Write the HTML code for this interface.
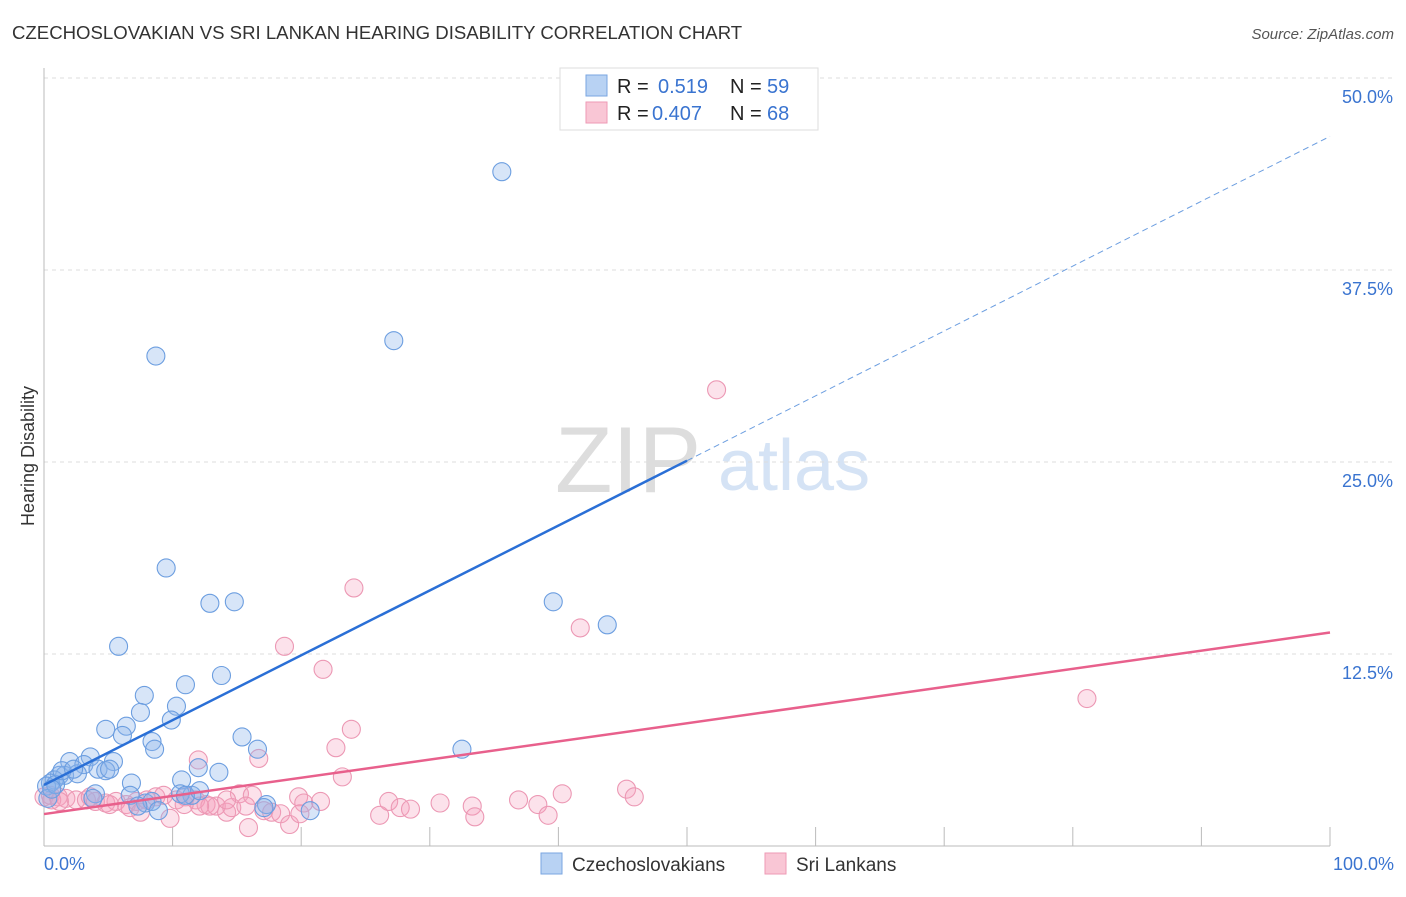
<!DOCTYPE html>
<html><head><meta charset="utf-8"><style>
body{margin:0;background:#fff;font-family:"Liberation Sans",sans-serif;}
svg text{font-family:"Liberation Sans",sans-serif;}
</style></head><body>
<svg id="chart" width="1406" height="892" xmlns="http://www.w3.org/2000/svg">
<text x="12" y="39" font-size="18.6" fill="#333">CZECHOSLOVAKIAN VS SRI LANKAN HEARING DISABILITY CORRELATION CHART</text>
<text x="1394" y="39" font-size="15" fill="#555" text-anchor="end" font-style="italic">Source: ZipAtlas.com</text>
<text x="34" y="456" font-size="18" fill="#333" text-anchor="middle" transform="rotate(-90 34 456)">Hearing Disability</text>
<g>
<text x="555" y="492" font-size="94" fill="#ddd" font-family="Liberation Serif,serif">ZIP</text>
<text x="718" y="490" font-size="72" fill="#d5e3f5">atlas</text>
</g>
<g id="grid"></g><g id="marks"></g><g id="lines"></g>
<g>
<rect x="560" y="68" width="258" height="62" fill="#fff" stroke="#ddd"/>
<rect x="586" y="75" width="21" height="21" fill="#b8d2f3" stroke="#7aa6e0"/>
<rect x="586" y="102" width="21" height="21" fill="#f9c6d5" stroke="#ee9ab5"/>
<text x="617" y="93" font-size="20" fill="#222">R = </text><text x="658" y="93" font-size="20" fill="#3a74d0">0.519</text>
<text x="730" y="93" font-size="20" fill="#222">N = </text><text x="767" y="93" font-size="20" fill="#3a74d0">59</text>
<text x="617" y="120" font-size="20" fill="#222">R = </text><text x="652" y="120" font-size="20" fill="#3a74d0">0.407</text>
<text x="730" y="120" font-size="20" fill="#222">N = </text><text x="767" y="120" font-size="20" fill="#3a74d0">68</text>
</g>
<g>
<rect x="541" y="853" width="21" height="21" fill="#b8d2f3" stroke="#7aa6e0"/>
<text x="572" y="871" font-size="19" fill="#333">Czechoslovakians</text>
<rect x="765" y="853" width="21" height="21" fill="#f9c6d5" stroke="#ee9ab5"/>
<text x="796" y="871" font-size="19" fill="#333">Sri Lankans</text>
</g>
</svg>
<script>
const yTicks=[12.5,25,37.5,50];
const yTickLabels=["12.5%","25.0%","37.5%","50.0%"];
const xTicks=[0,10,20,30,40,50,60,70,80,90,100];
const blueX=[35.6,8.7,27.2,9.5,12.9,14.8,39.6,43.8,5.8,13.8,11.0,7.8,10.3,7.5,4.8,6.4,6.1,9.9,8.4,8.6,15.4,16.6,32.5,3.6,2.0,5.4,3.1,4.2,4.8,1.2,1.6,2.6,0.8,0.5,0.2,12.0,13.6,10.7,6.8,6.7,11.5,4.0,3.8,7.9,8.4,8.9,7.3,10.6,11.0,17.3,17.1,20.7,0.3,0.9,0.6,5.1,12.1,1.4,2.3];
const blueY=[43.9,31.9,32.9,18.1,15.8,15.9,15.9,14.4,13.0,11.1,10.5,9.8,9.1,8.7,7.6,7.8,7.2,8.2,6.8,6.3,7.1,6.3,6.3,5.8,5.5,5.5,5.3,5.0,4.9,4.6,4.6,4.7,4.3,4.1,3.9,5.1,4.8,4.3,4.1,3.3,3.3,3.4,3.1,2.8,2.9,2.3,2.6,3.4,3.3,2.7,2.5,2.3,3.1,4.0,3.7,5.0,3.6,4.9,5.0];
const pinkX=[52.3,24.1,41.7,18.7,21.7,81.1,23.9,22.7,12.0,16.7,23.2,0,0.5,1.1,1.7,2.5,3.3,4.0,4.8,5.6,6.4,7.2,8.0,8.7,9.3,10.3,11.0,11.8,12.6,13.4,14.2,15.2,16.2,17.1,17.7,18.4,19.1,19.8,20.2,21.5,26.8,27.7,28.5,30.8,33.3,33.5,36.9,38.4,39.2,40.3,45.3,45.9,15.9,9.8,6.7,5.1,14.6,26.1,15.7,12.9,19.9,12.1,3.6,0.6,1.2,7.5,10.9,14.2];
const pinkY=[29.7,16.8,14.2,13.0,11.5,9.6,7.6,6.4,5.6,5.7,4.5,3.2,3.3,3.2,3.1,3.0,3.0,2.9,2.8,2.9,2.7,2.9,3.0,3.2,3.3,3.0,3.2,3.0,2.7,2.6,2.2,3.4,3.3,2.3,2.2,2.1,1.4,3.2,2.8,2.9,2.9,2.5,2.4,2.8,2.6,1.9,3.0,2.7,2.0,3.4,3.7,3.2,1.2,1.8,2.5,2.7,2.5,2.0,2.6,2.6,2.1,2.6,3.2,3.0,2.9,2.2,2.7,3.0];
const blueTrend=[3.97,46.2];
const pinkTrend=[2.08,13.9];
const NS="http://www.w3.org/2000/svg";
const X=v=>44+v*12.86, Y=v=>846-v*15.36;
function mk(tag,attrs,parent){const e=document.createElementNS(NS,tag);for(const k in attrs)e.setAttribute(k,attrs[k]);document.getElementById(parent).appendChild(e);return e;}
const g='grid';
yTicks.forEach((t,i)=>{
 const l=mk('line',{x1:44,x2:1394,y1:Y(t),y2:Y(t),stroke:'#ddd','stroke-dasharray':'4,4'},g);
 
 
 const tx=mk('text',{x:1393,y:Y(t)+25,'font-size':18,fill:'#3a74d0','text-anchor':'end'},g);tx.textContent=yTickLabels[i];
 
 
});
const ax=mk('line',{x1:44,x2:44,y1:68,y2:846,stroke:'#bbb'},g);


const bx=mk('line',{x1:44,x2:1330,y1:846,y2:846,stroke:'#bbb'},g);


xTicks.forEach(t=>{const l=mk('line',{x1:X(t),x2:X(t),y1:827,y2:846,stroke:'#bbb'},g);
 
 });
const xl0=mk('text',{x:44,y:870,'font-size':18,fill:'#3a74d0'},g);xl0.textContent='0.0%';


const xl1=mk('text',{x:1394,y:870,'font-size':18,fill:'#3a74d0','text-anchor':'end'},g);xl1.textContent='100.0%';


pinkX.forEach((x,i)=>{const c=mk('circle',{cx:X(x),cy:Y(pinkY[i]),r:9,fill:'rgba(244,160,188,0.3)',stroke:'#ec98b4','stroke-width':1.1},'marks');
 
 });
blueX.forEach((x,i)=>{const c=mk('circle',{cx:X(x),cy:Y(blueY[i]),r:9,fill:'rgba(140,180,235,0.35)',stroke:'#6c9ee0','stroke-width':1.1},'marks');
 
 });
const bAt=v=>blueTrend[0]+(blueTrend[1]-blueTrend[0])*v/100;
const b1=mk('line',{x1:X(0),y1:Y(bAt(0)),x2:X(50),y2:Y(bAt(50)),stroke:'#2a6fd6','stroke-width':2.5},'lines');


const b2=mk('line',{x1:X(50),y1:Y(bAt(50)),x2:X(100),y2:Y(bAt(100)),stroke:'#6c9ee0','stroke-width':1,'stroke-dasharray':'6,4'},'lines');


const p1=mk('line',{x1:X(0),y1:Y(pinkTrend[0]),x2:X(100),y2:Y(pinkTrend[1]),stroke:'#e8608c','stroke-width':2.5},'lines');


</script>
</body></html>
